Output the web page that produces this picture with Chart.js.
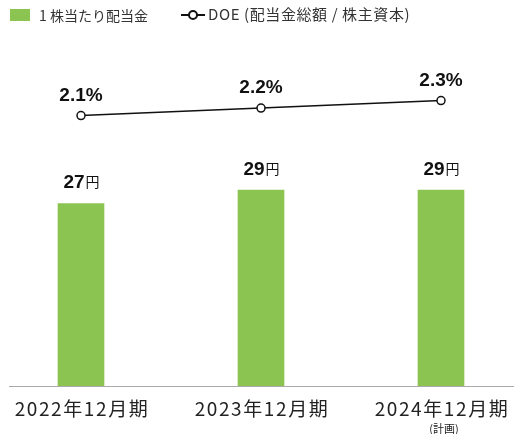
<!DOCTYPE html>
<html lang="ja">
<head>
<meta charset="utf-8">
<script src="https://cdn.jsdelivr.net/npm/chart.js@4/dist/chart.umd.min.js"></script>
<style>
    html, body { margin: 0; padding: 0; background: #fff; }
    #wrap { position: relative; width: 514px; height: 434px; }
    #chart { position: absolute; left: 0; top: 0; }
    .legend { position: absolute; top: 5px; font: 14px "Noto Sans CJK JP", sans-serif; color: #333; white-space: nowrap; line-height: 20px; }
    .swatch { position: absolute; left: 10px; top: 9px; width: 20px; height: 12px; background: #8cc452; }
    .mark { position: absolute; left: 181px; top: 14px; width: 24px; height: 2px; background: #111; }
    .dot { position: absolute; left: 188px; top: 10px; width: 6px; height: 6px; border: 2px solid #111; border-radius: 50%; background: #fff; }
</style>
</head>
<body>
<div id="wrap">
    <canvas id="chart" width="514" height="434"></canvas>
    <div class="swatch"></div>
    <div class="legend" style="left:39px">1 株当たり配当金</div>
    <div class="mark"></div>
    <div class="dot"></div>
    <div class="legend" style="left:208px; font-size:15px; letter-spacing:0.6px; top:4px">DOE (配当金総額 / 株主資本)</div>
</div>
<script>
// Chart data
const periods = ['2022年12月期', '2023年12月期', '2024年12月期'];
const periodNotes = ['', '', '(計画)'];
const dividends = [27, 29, 29];
const doeValues = [2.1, 2.2, 2.3];

const GREEN = '#8cc452';

// Draws value labels, x labels and the baseline
const labelsPlugin = {
    id: 'labels',
    afterDatasetsDraw(chart) {
        const ctx = chart.ctx;
        const area = chart.chartArea;
        ctx.save();

        // Baseline
        ctx.strokeStyle = '#aaa';
        ctx.lineWidth = 1;
        ctx.beginPath();
        ctx.moveTo(9, Math.round(area.bottom) + 0.5);
        ctx.lineTo(514, Math.round(area.bottom) + 0.5);
        ctx.stroke();

        // Bar labels: number + 円
        const bars = chart.getDatasetMeta(0).data;
        bars.forEach((bar, i) => {
            const num = String(dividends[i]);
            ctx.font = 'bold 19px "Liberation Sans", Arial, sans-serif';
            const w1 = ctx.measureText(num).width;
            ctx.font = '14px "Noto Sans CJK JP", sans-serif';
            const w2 = ctx.measureText('円').width;
            const x0 = bar.x - (w1 + w2) / 2;
            const y = bar.y - 15;
            ctx.fillStyle = '#111';
            ctx.textAlign = 'left';
            ctx.textBaseline = 'alphabetic';
            ctx.font = 'bold 19px "Liberation Sans", Arial, sans-serif';
            ctx.fillText(num, x0, y);
            ctx.font = '14px "Noto Sans CJK JP", sans-serif';
            ctx.fillText('円', x0 + w1 + 1, y - 1);
        });

        // DOE labels
        const points = chart.getDatasetMeta(1).data;
        points.forEach((pt, i) => {
            ctx.font = 'bold 19px "Liberation Sans", Arial, sans-serif';
            ctx.fillStyle = '#111';
            ctx.textAlign = 'center';
            ctx.fillText(doeValues[i].toFixed(1) + '%', pt.x, pt.y - 15);
        });

        // X axis labels
        const xScale = chart.scales.x;
        periods.forEach((p, i) => {
            const x = xScale.getPixelForValue(i);
            ctx.fillStyle = '#222';
            ctx.textAlign = 'center';
            ctx.font = '19px "Noto Sans CJK JP", sans-serif';
            ctx.letterSpacing = '1.6px';
            ctx.fillText(p, x + 1, 416);
            ctx.letterSpacing = '0px';
            if (periodNotes[i]) {
                ctx.font = '11px "Noto Sans CJK JP", sans-serif';
                ctx.fillText(periodNotes[i], x + 3, 433);
            }
        });
        ctx.restore();
    }
};

new Chart(document.getElementById('chart'), {
    type: 'bar',
    data: {
        labels: periods,
        datasets: [{
            type: 'bar',
            data: dividends,
            backgroundColor: GREEN,
            barThickness: 46,
            yAxisID: 'y',
            clip: false,
            order: 1
        }, {
            type: 'line',
            data: doeValues,
            borderColor: '#111',
            borderWidth: 1.5,
            pointRadius: 4,
            pointBorderWidth: 1.5,
            pointBackgroundColor: '#fff',
            pointBorderColor: '#111',
            tension: 0,
            yAxisID: 'y1',
            clip: false,
            order: 0
        }]
    },
    options: {
        responsive: false,
        animation: false,
        layout: { padding: { left: 81, right: 73, top: 48, bottom: 48 } },
        plugins: {
            legend: { display: false },
            tooltip: { enabled: false }
        },
        scales: {
            x: { display: false, offset: false },
            y: { display: false, min: 0, max: 50 },
            y1: { display: false, min: -1.5, max: 3.0 }
        }
    },
    plugins: [labelsPlugin]
});
</script>
</body>
</html>
